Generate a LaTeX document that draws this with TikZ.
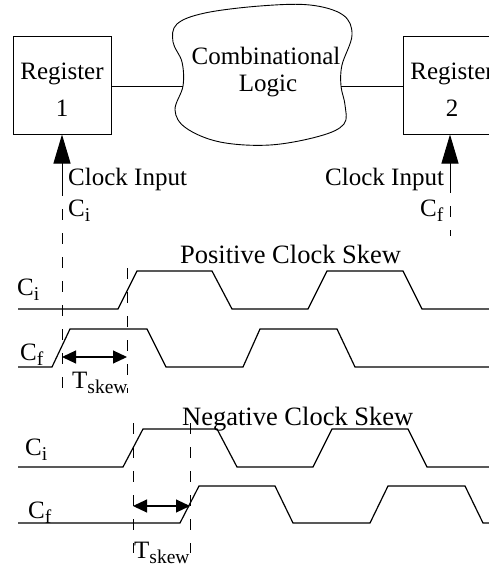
\documentclass[tikz,border=0pt]{standalone}
\usepackage{fontspec}
\setmainfont{Liberation Serif}
\usetikzlibrary{arrows.meta}
\newcommand\lowsub[1]{\raisebox{-5pt}{\fontsize{19.5}{20}\selectfont #1}}
\begin{document}
\begin{tikzpicture}[x=1pt,y=-1pt,
  txt/.style={font=\fontsize{25}{27}\selectfont, inner sep=0pt},
  head/.style={font=\fontsize{26.5}{28}\selectfont, inner sep=0pt},
  regbox/.style={draw, line width=1pt, minimum width=98pt, minimum height=97pt, inner sep=0pt},
  wave/.style={line width=1.2pt, line join=miter},
  dsh/.style={dash pattern=on 11pt off 13pt, line width=0.9pt},
  clk/.style={line width=1pt, -{Triangle[length=29pt,width=17pt]}},
  skw/.style={line width=1.1pt, {Triangle[length=14pt,width=13pt]}-{Triangle[length=14pt,width=13pt]}},
  conn/.style={line width=0.9pt}
]
\clip (0,0) rectangle (489,567);
\fill[white] (0,0) rectangle (489,567);

% registers
\node[regbox] (r1) at (62,85.5) {};
\node[txt, anchor=base] (r1a) at (62,80) {Register};
\node[txt, anchor=base] (r1b) at (62,117) {1};
\node[regbox] (r2) at (452,85.5) {};
\node[txt, anchor=base] (r2a) at (452,80) {Register};
\node[txt, anchor=base] (r2b) at (452,117) {2};

% cloud
\draw[line width=0.9pt] plot[smooth cycle, tension=0.6] coordinates {
  (183,86) (182,62) (173,42) (177,24) (205,13) (260,6) (310,5) (343,15)
  (352,35) (342,65) (341,86) (345,105) (344,124) (320,136) (270,145)
  (220,142) (186,128) (175,110)};
\coordinate (cl) at (183,86);
\coordinate (cr) at (341,86);
\node[txt, anchor=base] (cb) at (266,65) {Combinational};
\node[txt, anchor=base] (lg) at (268,92) {Logic};

\draw[conn] (r1.east |- cl) -- (cl);
\draw[conn] (cr) -- (r2.west |- cr);

% clock inputs
\coordinate (c1s) at (62,185);
\coordinate (c2s) at (450,182);
\draw[clk] (c1s) -- (r1.south -| c1s);
\draw[clk] (c2s) -- (r2.south -| c2s);
\coordinate (c1e) at (62,393);
\coordinate (c2e) at (450,236);
\draw[dsh] (c1s) -- (c1e);
\draw[dsh] (c2s) -- (c2e);

\node[txt, anchor=base west] (ci1) at (68,185) {Clock Input};
\node[txt, anchor=base west] (ci2) at (325,185) {Clock Input};
\node[txt, anchor=base west] (lci) at (68,216) {C\lowsub{i}};
\node[txt, anchor=base west] (lcf) at (420,216) {C\lowsub{f}};

% positive clock skew
\node[head, anchor=base west] (pcs) at (180,263) {Positive Clock Skew};
\node[txt, anchor=base west] (pci) at (17,295) {C\lowsub{i}};
\node[txt, anchor=base west] (pcf) at (20,360) {C\lowsub{f}};
\draw[wave] (18,309) -- (118,309) -- (137,271) -- (212,271) -- (232,309) -- (308,309)
  -- (327,271) -- (403,271) -- (422,309) -- (489,309);
\draw[wave] (18,367) -- (52,367) -- (70,329) -- (147,329) -- (166,367) -- (243,367)
  -- (260,329) -- (337,329) -- (355,367) -- (489,367);
\coordinate (p2t) at (127,268);
\coordinate (p2b) at (127,393);
\draw[dsh] (p2t) -- (p2b);
\coordinate (pa1) at (62,357);
\coordinate (pa2) at (127,357);
\draw[skw] (pa1) -- (pa2);
\node[txt, anchor=base west] (pts) at (72,388) {T\lowsub{skew}};

% negative clock skew
\node[head, anchor=base west] (ncs) at (182,425) {Negative Clock Skew};
\node[txt, anchor=base west] (nci) at (25,455) {C\lowsub{i}};
\node[txt, anchor=base west] (ncf) at (28,518) {C\lowsub{f}};
\draw[wave] (18,467) -- (123,467) -- (143,429) -- (217,429) -- (237,467) -- (313,467)
  -- (332,429) -- (408,429) -- (427,467) -- (489,467);
\draw[wave] (18,523) -- (180,523) -- (199,486) -- (275,486) -- (293,523) -- (370,523)
  -- (388,486) -- (465,486) -- (483,523) -- (489,523);
\coordinate (n1t) at (133,423);
\coordinate (n1b) at (133,553);
\coordinate (n2t) at (190,423);
\coordinate (n2b) at (190,553);
\draw[dsh] (n1t) -- (n1b);
\draw[dsh] (n2t) -- (n2b);
\coordinate (na1) at (133,506);
\coordinate (na2) at (190,506);
\draw[skw] (na1) -- (na2);
\node[txt, anchor=base west] (nts) at (134,558) {T\lowsub{skew}};
\end{tikzpicture}
\end{document}
